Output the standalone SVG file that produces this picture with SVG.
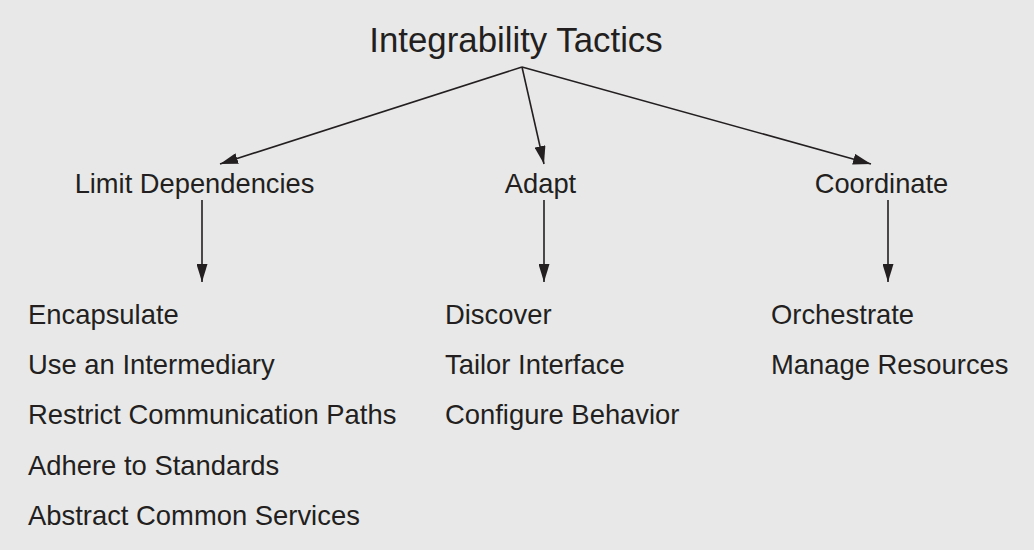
<svg xmlns="http://www.w3.org/2000/svg" width="1034" height="550" viewBox="0 0 1034 550">
<style>
text{font-family:"Liberation Sans",Arial,sans-serif;fill:#231f20}
.t{font-size:34.8px}
.h{font-size:27.3px}
.i{font-size:27.4px}
.c{stroke:#231f20;stroke-width:1.6;fill:none}
</style>
<defs>
<marker id="a" viewBox="0 0 18 11" refX="18" refY="5.5" markerWidth="18" markerHeight="11" markerUnits="userSpaceOnUse" orient="auto">
<path d="M0,0L18,5.5L0,11z" fill="#231f20"/>
</marker>
</defs>
<rect width="1034" height="550" fill="#e8e8e8"/>
<g id="connectors">
<line class="c" x1="522" y1="67" x2="220" y2="164" marker-end="url(#a)"/>
<line class="c" x1="522" y1="67" x2="544" y2="164" marker-end="url(#a)"/>
<line class="c" x1="522" y1="67" x2="871" y2="164" marker-end="url(#a)"/>
<line class="c" x1="202" y1="200" x2="202" y2="282" marker-end="url(#a)"/>
<line class="c" x1="544" y1="200" x2="544" y2="282" marker-end="url(#a)"/>
<line class="c" x1="888" y1="200" x2="888" y2="282" marker-end="url(#a)"/>
</g>
<g id="root"><text class="t" x="516" y="52" text-anchor="middle">Integrability Tactics</text></g>
<g id="limit"><text class="h" x="194.5" y="193" text-anchor="middle">Limit Dependencies</text></g>
<g id="adapt"><text class="h" x="540.5" y="193" text-anchor="middle">Adapt</text></g>
<g id="coordinate"><text class="h" x="881.5" y="193" text-anchor="middle">Coordinate</text></g>
<g id="limit-list">
<text class="i" x="28" y="324">Encapsulate</text>
<text class="i" x="28" y="374">Use an Intermediary</text>
<text class="i" x="28" y="424">Restrict Communication Paths</text>
<text class="i" x="28" y="475">Adhere to Standards</text>
<text class="i" x="28" y="525">Abstract Common Services</text>
</g>
<g id="adapt-list">
<text class="i" x="445" y="324">Discover</text>
<text class="i" x="445" y="374">Tailor Interface</text>
<text class="i" x="445" y="424">Configure Behavior</text>
</g>
<g id="coordinate-list">
<text class="i" x="771" y="324">Orchestrate</text>
<text class="i" x="771" y="374">Manage Resources</text>
</g>
</svg>
